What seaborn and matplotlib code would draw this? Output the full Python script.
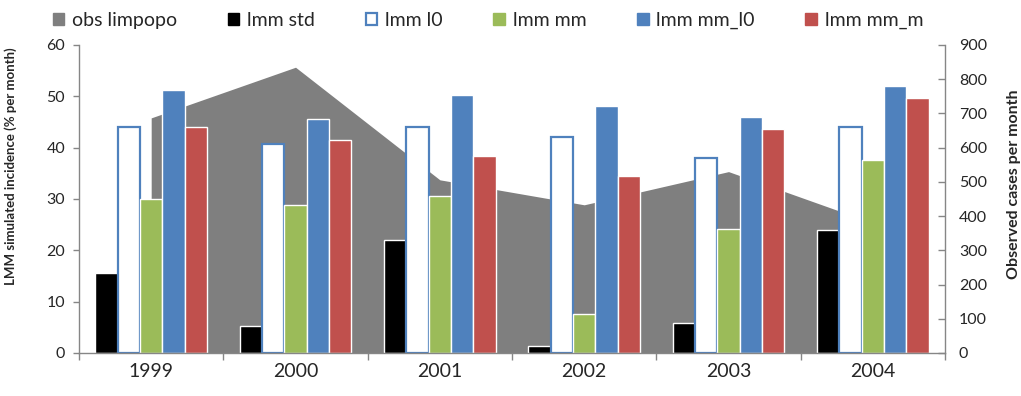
import matplotlib
matplotlib.use("Agg")
import matplotlib.pyplot as plt
from matplotlib.patches import Patch
import seaborn as sns
import pandas as pd
import numpy as np

years = ["1999", "2000", "2001", "2002", "2003", "2004"]
lmm_std = [15.6, 5.3, 22.1, 1.4, 5.8, 24.0]
lmm_l0 = [44.0, 40.7, 44.0, 42.0, 38.0, 44.1]
lmm_mm = [30.0, 28.8, 30.6, 7.5, 24.1, 37.5]
lmm_mm_l0 = [51.3, 45.5, 50.3, 48.2, 45.9, 52.1]
lmm_mm_m = [44.1, 41.5, 38.3, 34.5, 43.6, 49.7]
obs_limpopo = [687, 835, 506, 433, 530, 380]

series_names = ["lmm std", "lmm l0", "lmm mm", "lmm mm_l0", "lmm mm_m"]
series_values = [lmm_std, lmm_l0, lmm_mm, lmm_mm_l0, lmm_mm_m]
colors = ["#000000", "#4F81BD", "#9BBB59", "#4F81BD", "#C0504D"]
obs_color = "#7F7F7F"
axis_grey = "#868686"

rows = []
for name, vals in zip(series_names, series_values):
    for yr, v in zip(years, vals):
        rows.append({"year": yr, "series": name, "value": v})
df = pd.DataFrame(rows)

sns.set_theme(style="white")
plt.rcParams["font.family"] = ["Lato", "DejaVu Sans"]

fig = plt.figure(figsize=(10.21, 3.96), dpi=100)
ax = fig.add_axes([0.0774, 0.1086, 0.8482, 0.7778])
ax2 = ax.twinx()

# observed cases as a grey area behind the bars
ax2.fill_between(np.arange(len(years)), obs_limpopo, 0, color=obs_color, linewidth=0)

sns.barplot(data=df, x="year", y="value", hue="series", hue_order=series_names,
            palette=colors, width=0.775, saturation=1, errorbar=None,
            legend=False, ax=ax)

# lmm l0 is drawn as an outlined bar
for bar in ax.containers[1]:
    bar.set_facecolor("white")
    bar.set_edgecolor("#4F81BD")
    bar.set_linewidth(1.6)

ax.set_zorder(2)
ax2.set_zorder(1)
ax.patch.set_visible(False)

ax.set_xlim(-0.5, 5.5)
ax.set_ylim(0, 60)
ax2.set_ylim(0, 900)
ax.set_yticks(range(0, 61, 10))
ax2.set_yticks(range(0, 901, 100))

ax.set_xticks(range(len(years)))
ax.set_xticklabels(years, fontsize=14)
ax.set_xticks(np.arange(-0.5, 6.0, 1.0), minor=True)
ax.tick_params(axis="x", which="major", length=0, pad=7)
ax.tick_params(axis="x", which="minor", length=5, width=1, color=axis_grey, direction="out", bottom=True)
ax.tick_params(axis="y", length=4, width=1, color=axis_grey, direction="out", labelsize=11.5, pad=6, left=True)
ax2.tick_params(axis="y", length=5, width=1, color=axis_grey, direction="in", labelsize=11.5, pad=10, right=True)

for a in (ax, ax2):
    for s in a.spines.values():
        s.set_color(axis_grey)
        s.set_linewidth(1)
    a.spines["top"].set_visible(False)
    a.grid(False)
ax.spines["right"].set_visible(False)
ax2.spines["left"].set_visible(False)
ax2.spines["bottom"].set_visible(False)

ax.set_xlabel("")
ax.set_ylabel("LMM simulated incidence (% per month)", fontsize=9.5, fontweight="bold")
ax.yaxis.set_label_coords(-0.072, 0.607)
ax2.set_ylabel("Observed cases per month", fontsize=11.5, fontweight="bold")
ax2.yaxis.set_label_coords(1.071, 0.549)

handles = [
    Patch(facecolor=obs_color, edgecolor=obs_color),
    Patch(facecolor="#000000", edgecolor="#000000"),
    Patch(facecolor="white", edgecolor="#4F81BD", linewidth=1.6),
    Patch(facecolor="#9BBB59", edgecolor="#9BBB59"),
    Patch(facecolor="#4F81BD", edgecolor="#4F81BD"),
    Patch(facecolor="#C0504D", edgecolor="#C0504D"),
]
labels = ["obs limpopo"] + series_names
fig.legend(handles, labels, loc="upper center", bbox_to_anchor=(0.478, 1.015), ncol=6,
           frameon=False, fontsize=14, handlelength=0.6, handleheight=0.6,
           handletextpad=0.4, columnspacing=2.6)

fig.savefig("out.png", dpi=100)
